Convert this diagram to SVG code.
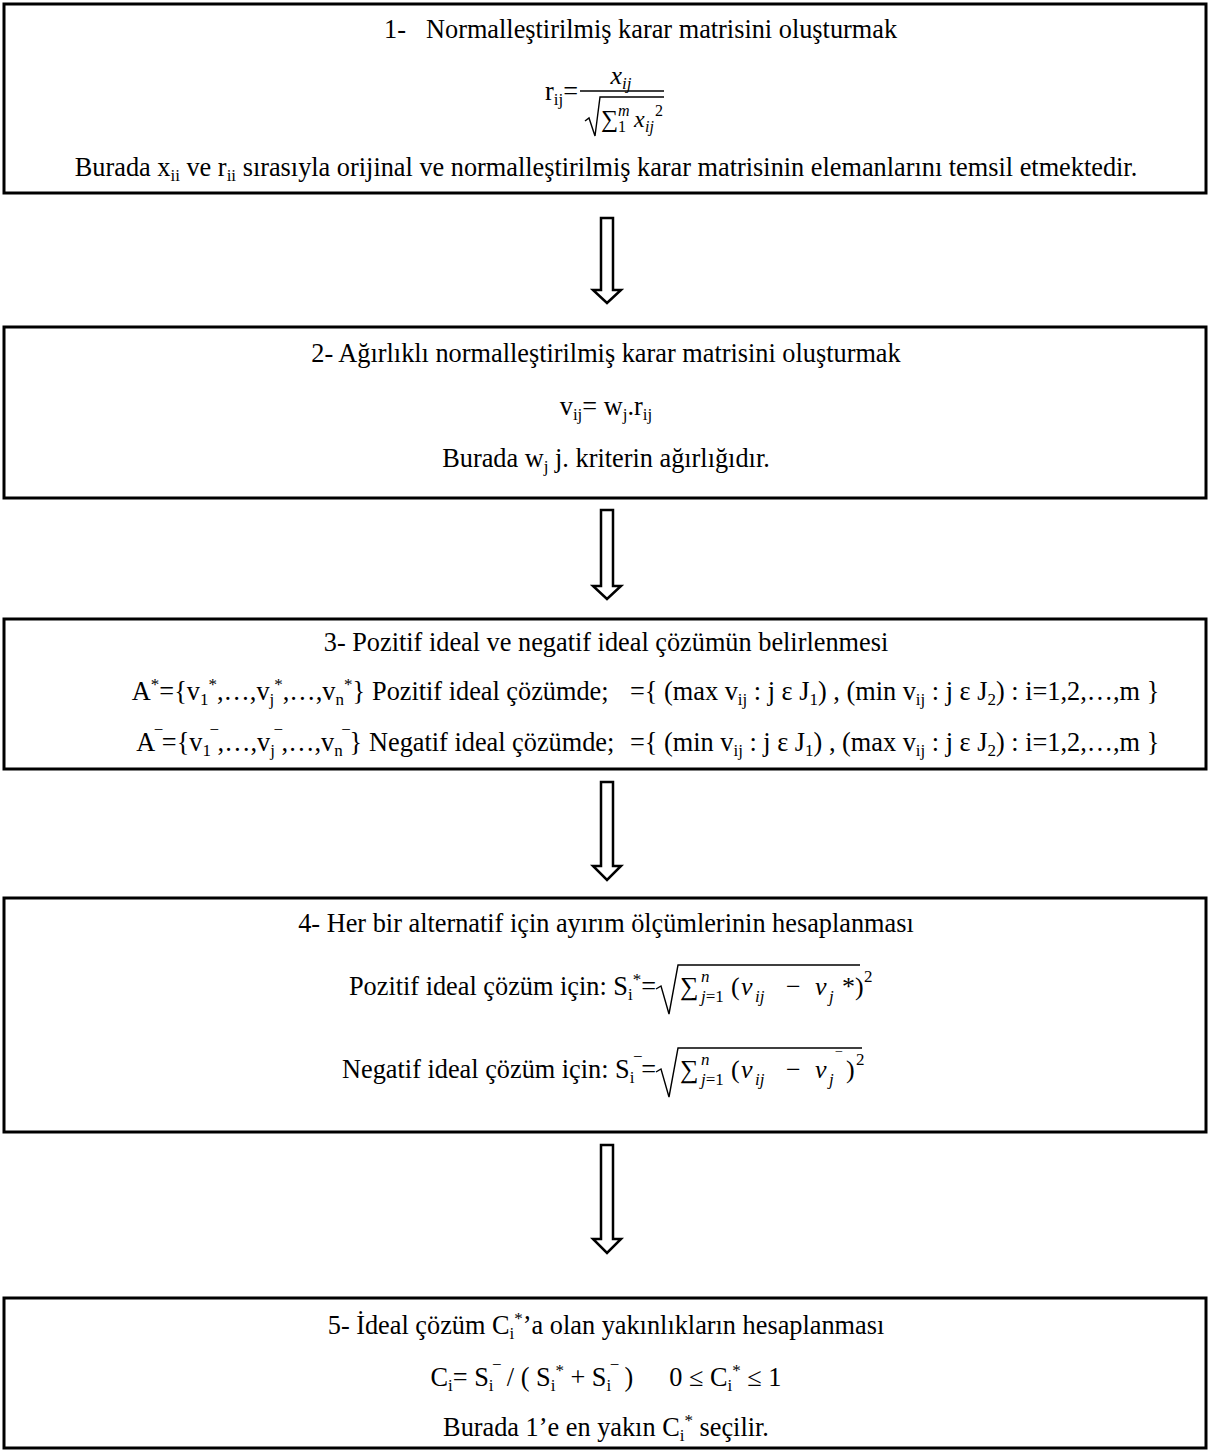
<svg xmlns="http://www.w3.org/2000/svg" width="1209" height="1456" viewBox="0 0 1209 1456">
<style>
.t{font-family:"Liberation Serif","Times New Roman",serif;font-size:26.3px;fill:#000}
.m{font-family:"Liberation Serif","Times New Roman",serif;font-style:italic;font-size:26px;fill:#000}
.u{font-style:normal}
.sub{font-size:17px;baseline-shift:-5px}
.sup{font-size:17px;baseline-shift:10px}
.bar{font-size:20px;baseline-shift:5px}
.box{fill:#fff;stroke:#000;stroke-width:3}
.arr{fill:#fff;stroke:#000;stroke-width:2.5;stroke-linejoin:miter}
.ln{fill:none;stroke:#000;stroke-width:1.4}
</style>
<rect width="1209" height="1456" fill="#fff"/>
<g id="connectors">
<path class="arr" d="M601,218 H613 V290 H621 L607,303 L593,290 H601 Z"/>
<path class="arr" d="M601,510 H613 V586 H621 L607,599 L593,586 H601 Z"/>
<path class="arr" d="M601,782 H613 V866 H621 L607,880 L593,866 H601 Z"/>
<path class="arr" d="M601,1145 H613 V1239 H621 L607,1253 L593,1239 H601 Z"/>
</g>
<g id="step1">
<rect class="box" x="4" y="4" width="1202" height="189"/>
<text class="t" x="384" y="38">1-</text>
<text class="t" x="426" y="38">Normalleştirilmiş karar matrisini oluşturmak</text>
<text class="t" x="545" y="100">r<tspan class="sub">ij</tspan>=</text>
<text class="m" x="621" y="84" text-anchor="middle">x<tspan class="sub">ij</tspan></text>
<line class="ln" x1="580" y1="91" x2="664" y2="91" stroke-width="2"/>
<path class="ln" d="M585,121 L589,118 L595,136 L600,97 H664"/>
<text class="m" y="127"><tspan class="u" x="601" font-size="24">∑</tspan><tspan x="618" y="132" font-size="16" class="u">1</tspan><tspan x="618" y="116" font-size="16">m</tspan><tspan x="634" y="127" font-size="24">x</tspan><tspan x="645" y="132" font-size="16">ij</tspan><tspan x="655" y="116" font-size="16" class="u">2</tspan></text>
<text class="t" x="606" y="176" text-anchor="middle">Burada x<tspan class="sub">ii</tspan> ve r<tspan class="sub">ii</tspan> sırasıyla orijinal ve normalleştirilmiş karar matrisinin elemanlarını temsil etmektedir.</text>
</g>
<g id="step2">
<rect class="box" x="4" y="327" width="1202" height="171"/>
<text class="t" x="606" y="362" text-anchor="middle">2- Ağırlıklı normalleştirilmiş karar matrisini oluşturmak</text>
<text class="t" x="606" y="415" text-anchor="middle">v<tspan class="sub">ij</tspan>= w<tspan class="sub">j</tspan>.r<tspan class="sub">ij</tspan></text>
<text class="t" x="606" y="467" text-anchor="middle">Burada w<tspan class="sub">j</tspan> j. kriterin ağırlığıdır.</text>
</g>
<g id="step3">
<rect class="box" x="4" y="619" width="1202" height="150"/>
<text class="t" x="606" y="651" text-anchor="middle">3- Pozitif ideal ve negatif ideal çözümün belirlenmesi</text>
<text class="t" x="365" y="700" text-anchor="end">A<tspan class="sup">*</tspan>={v<tspan class="sub">1</tspan><tspan class="sup">*</tspan>,…,v<tspan class="sub">j</tspan><tspan class="sup">*</tspan>,…,v<tspan class="sub">n</tspan><tspan class="sup">*</tspan>}</text>
<text class="t" x="372" y="700">Pozitif ideal çözümde;</text>
<text class="t" x="630" y="700">={ (max v<tspan class="sub">ij</tspan> : j ε J<tspan class="sub">1</tspan>) , (min v<tspan class="sub">ij</tspan> : j ε J<tspan class="sub">2</tspan>) : i=1,2,…,m }</text>
<text class="t" x="362" y="751" text-anchor="end">A<tspan class="bar">‾</tspan>={v<tspan class="sub">1</tspan><tspan class="bar">‾</tspan>,…,v<tspan class="sub">j</tspan><tspan class="bar">‾</tspan>,…,v<tspan class="sub">n</tspan><tspan class="bar">‾</tspan>}</text>
<text class="t" x="369" y="751">Negatif ideal çözümde;</text>
<text class="t" x="630" y="751">={ (min v<tspan class="sub">ij</tspan> : j ε J<tspan class="sub">1</tspan>) , (max v<tspan class="sub">ij</tspan> : j ε J<tspan class="sub">2</tspan>) : i=1,2,…,m }</text>
</g>
<g id="step4">
<rect class="box" x="4" y="898" width="1202" height="234"/>
<text class="t" x="606" y="932" text-anchor="middle">4- Her bir alternatif için ayırım ölçümlerinin hesaplanması</text>
<text class="t" x="656" y="995" text-anchor="end">Pozitif ideal çözüm için: S<tspan class="sub">i</tspan><tspan class="sup">*</tspan>=</text>
<path class="ln" d="M656,989 L661,986 L669,1014 L678,965 H860"/>
<text class="m" y="995"><tspan class="u" x="680">∑</tspan><tspan x="701" y="982" font-size="17">n</tspan><tspan x="701" y="1002" font-size="17">j<tspan class="u">=1</tspan></tspan><tspan class="u" x="731" y="995">(</tspan><tspan x="741">v</tspan><tspan x="755" y="1002" font-size="17">ij</tspan><tspan class="u" x="786" y="995">−</tspan><tspan x="815">v</tspan><tspan x="829" y="1002" font-size="17">j</tspan><tspan class="u" x="842" y="995">*)</tspan><tspan class="u" x="864" y="982" font-size="17">2</tspan></text>
<text class="t" x="656" y="1078" text-anchor="end">Negatif ideal çözüm için: S<tspan class="sub">i</tspan><tspan class="bar">‾</tspan>=</text>
<path class="ln" d="M656,1072 L661,1069 L669,1097 L678,1048 H862"/>
<text class="m" y="1078"><tspan class="u" x="680">∑</tspan><tspan x="701" y="1065" font-size="17">n</tspan><tspan x="701" y="1085" font-size="17">j<tspan class="u">=1</tspan></tspan><tspan class="u" x="731" y="1078">(</tspan><tspan x="741">v</tspan><tspan x="755" y="1085" font-size="17">ij</tspan><tspan class="u" x="786" y="1078">−</tspan><tspan x="815">v</tspan><tspan x="829" y="1085" font-size="17">j</tspan><tspan class="u" x="836" y="1065" font-size="17">‾</tspan><tspan class="u" x="846" y="1078">)</tspan><tspan class="u" x="856" y="1065" font-size="17">2</tspan></text>
</g>
<g id="step5">
<rect class="box" x="4" y="1298" width="1202" height="150"/>
<text class="t" x="606" y="1334" text-anchor="middle">5- İdeal çözüm C<tspan class="sub">i</tspan><tspan class="sup">*</tspan>’a olan yakınlıkların hesaplanması</text>
<text class="t" x="606" y="1386" text-anchor="middle">C<tspan class="sub">i</tspan>= S<tspan class="sub">i</tspan><tspan class="bar">‾</tspan> / ( S<tspan class="sub">i</tspan><tspan class="sup">*</tspan> + S<tspan class="sub">i</tspan><tspan class="bar">‾</tspan> )<tspan dx="36">0 ≤ C</tspan><tspan class="sub">i</tspan><tspan class="sup">*</tspan> ≤ 1</text>
<text class="t" x="606" y="1436" text-anchor="middle">Burada 1’e en yakın C<tspan class="sub">i</tspan><tspan class="sup">*</tspan> seçilir.</text>
</g>
</svg>
